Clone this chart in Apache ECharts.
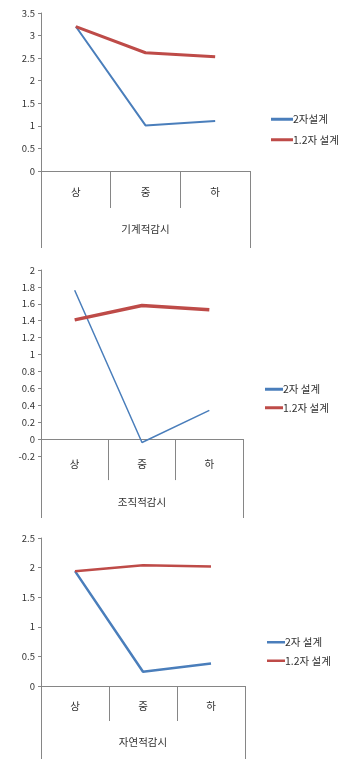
<!DOCTYPE html>
<html>
<head>
<meta charset="utf-8">
<script src="https://cdn.jsdelivr.net/npm/echarts@6/dist/echarts.min.js"></script>
<style>
  html, body { margin: 0; padding: 0; background: #fff; }
  .panel { position: absolute; left: 0; width: 339px; }
</style>
</head>
<body>
<div id="c1" class="panel" style="top:0;height:255px"></div>
<div id="c2" class="panel" style="top:255px;height:270px"></div>
<div id="c3" class="panel" style="top:525px;height:234px"></div>
<script>
// Shared categories (상/중/하 levels)
const levels = ['상', '중', '하'];

// Panel 1: 기계적감시
const group1 = '기계적감시';
const names1 = ['2자설계', '1.2자 설계'];
const second1 = [3.2, 1.01, 1.11];
const firstSecond1 = [3.2, 2.62, 2.53];

// Panel 2: 조직적감시
const group2 = '조직적감시';
const names2 = ['2자 설계', '1.2자 설계'];
const second2 = [1.76, -0.04, 0.34];
const firstSecond2 = [1.41, 1.58, 1.53];

// Panel 3: 자연적감시
const group3 = '자연적감시';
const names3 = ['2자 설계', '1.2자 설계'];
const second3 = [1.94, 0.24, 0.38];
const firstSecond3 = [1.94, 2.04, 2.02];

const BLUE = '#4a7ebb';
const RED = '#be4b48';
const AXIS = '#868686';
const TEXT = '#333';
const FONT = '"Noto Sans CJK KR", "DejaVu Sans", sans-serif';

function build(cfg) {
  return {
    animation: false,
    textStyle: { fontFamily: FONT },
    grid: { left: 41, top: cfg.top, width: cfg.width, height: cfg.height, containLabel: false },
    legend: {
      orient: 'vertical',
      left: cfg.legendLeft,
      top: cfg.legendTop,
      itemWidth: cfg.legendIcon,
      itemHeight: cfg.legendThick,
      itemGap: cfg.legendGap,
      icon: 'rect',
      textStyle: { fontSize: 10.5, color: TEXT, padding: [0, 0, 0, -5] },
      data: cfg.names
    },
    xAxis: [
      {
        type: 'category',
        data: levels,
        boundaryGap: true,
        axisLine: { show: true, onZero: true, lineStyle: { color: AXIS, width: 1 } },
        axisTick: { show: true, interval: 0, length: cfg.tickLen, lineStyle: { color: AXIS } },
        axisLabel: { margin: cfg.labelMargin, color: TEXT, fontSize: 10.5, interval: 0 }
      },
      {
        type: 'category',
        data: [cfg.group],
        boundaryGap: true,
        position: 'bottom',
        axisLine: { show: false, onZero: false },
        axisTick: { show: true, length: cfg.outerLen, lineStyle: { color: AXIS } },
        axisLabel: { margin: cfg.groupMargin, color: TEXT, fontSize: 10.5 }
      }
    ],
    yAxis: {
      type: 'value',
      min: cfg.min,
      max: cfg.max,
      interval: cfg.interval,
      splitLine: { show: false },
      axisLine: { show: true, lineStyle: { color: AXIS } },
      axisTick: { show: true, length: 3, lineStyle: { color: AXIS } },
      axisLabel: { color: TEXT, fontSize: 9.5, margin: 6 }
    },
    series: [
      {
        name: cfg.names[0], type: 'line', xAxisIndex: 0, data: cfg.blue,
        symbol: 'none', color: BLUE, lineStyle: { color: BLUE, width: cfg.blueW }
      },
      {
        name: cfg.names[1], type: 'line', xAxisIndex: 0, data: cfg.red,
        symbol: 'none', color: RED, lineStyle: { color: RED, width: cfg.redW }
      }
    ]
  };
}

echarts.init(document.getElementById('c1')).setOption(build({
  top: 13, width: 209, height: 158, min: 0, max: 3.5, interval: 0.5,
  group: group1, names: names1, blue: second1, red: firstSecond1,
  tickLen: 37, labelMargin: 16, outerLen: 77, groupMargin: 53,
  legendLeft: 266, legendTop: 109, legendIcon: 22, legendGap: 10, legendThick: 3,
  blueW: 2, redW: 3
}));

// value axis runs below zero here, so the group axis sits at the grid bottom (-0.2)
echarts.init(document.getElementById('c2')).setOption(build({
  top: 15, width: 202, height: 186, min: -0.2, max: 2, interval: 0.2,
  group: group2, names: names2, blue: second2, red: firstSecond2,
  tickLen: 41, labelMargin: 3, outerLen: 62, groupMargin: 41,
  legendLeft: 260, legendTop: 124, legendIcon: 18, legendGap: 8, legendThick: 3,
  blueW: 1.5, redW: 3.5
}));

echarts.init(document.getElementById('c3')).setOption(build({
  top: 13, width: 204, height: 148, min: 0, max: 2.5, interval: 0.5,
  group: group3, names: names3, blue: second3, red: firstSecond3,
  tickLen: 35, labelMargin: 15, outerLen: 75, groupMargin: 51,
  legendLeft: 262, legendTop: 107, legendIcon: 18, legendGap: 8, legendThick: 2.5,
  blueW: 2.5, redW: 2.5
}));
</script>
</body>
</html>
